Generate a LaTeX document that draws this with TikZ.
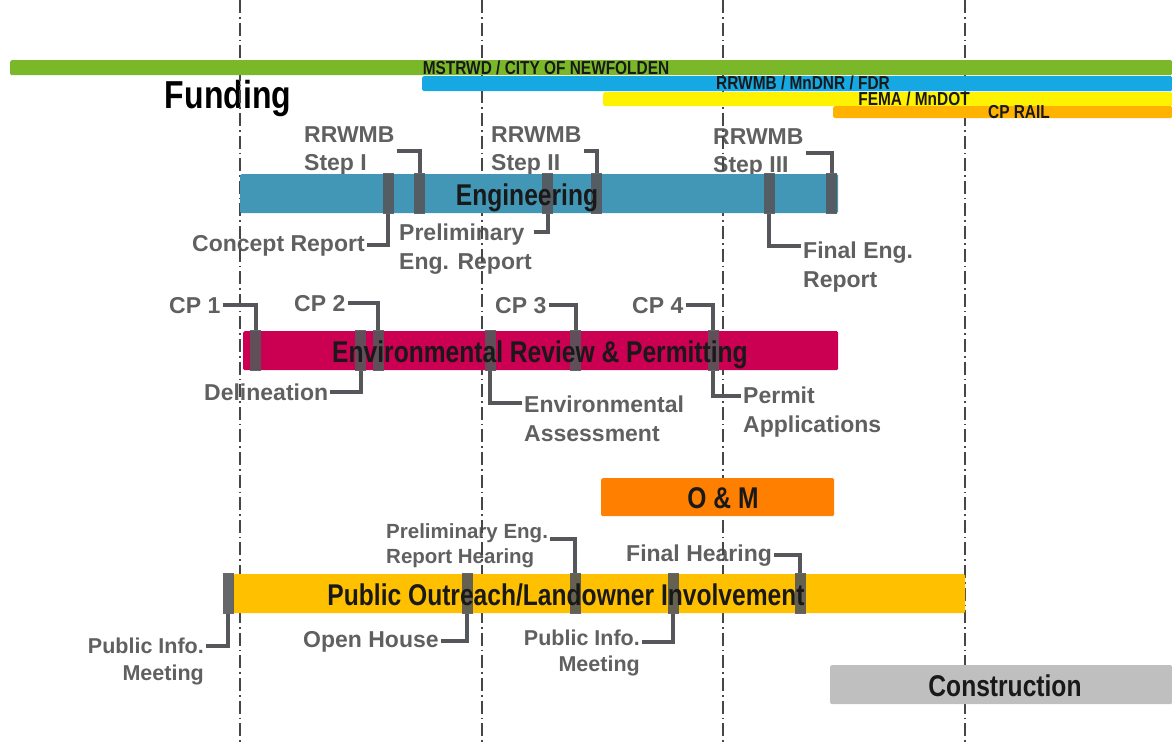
\documentclass[tikz,border=0pt]{standalone}
\usepackage{fontspec}
\setmainfont{Liberation Sans}
\newfontfamily\narrowsans[FakeStretch=0.82]{Liberation Sans}

\definecolor{fundgreen}{RGB}{122,184,42}
\definecolor{fundblue}{RGB}{22,168,226}
\definecolor{fundyellow}{RGB}{255,242,0}
\definecolor{fundamber}{RGB}{255,178,0}
\definecolor{engblue}{RGB}{66,151,183}
\definecolor{envred}{RGB}{204,0,82}
\definecolor{omorange}{RGB}{255,128,0}
\definecolor{pubamber}{RGB}{255,192,0}
\definecolor{consgray}{RGB}{191,191,191}
\definecolor{markgray}{RGB}{85,87,90}
\definecolor{notegray}{RGB}{96,96,96}
\definecolor{gridgray}{RGB}{70,70,70}

\begin{document}
\begin{tikzpicture}[
    x=1pt, y=-1pt,
    grid/.style={draw=gridgray, line width=1.4pt, dash pattern=on 13pt off 4pt on 1.6pt off 4pt},
    fundbar/.style={rectangle, anchor=north west, inner sep=0pt, rounded corners=1.5pt, minimum height=15pt},
    fundtext/.style={font=\narrowsans\bfseries\fontsize{18.8}{21}\selectfont, text=black!90, inner sep=0pt, anchor=base},
    taskbar/.style={rectangle, anchor=north west, inner sep=0pt, rounded corners=1.5pt, minimum height=39pt},
    tasktext/.style={font=\narrowsans\bfseries\fontsize{30}{34}\selectfont, text=black!90, inner sep=0pt, anchor=base},
    milestone/.style={rectangle, fill=markgray, opacity=0.9, inner sep=0pt, minimum width=11pt, minimum height=41pt},
    note/.style={font=\bfseries\fontsize{23}{28.5}\selectfont, text=notegray, inner sep=2pt, anchor=base west},
    link/.style={draw=markgray, line width=4pt}
]
    \useasboundingbox (0,0) rectangle (1172,745);

    \node[font=\narrowsans\bfseries\fontsize{39}{43}\selectfont, anchor=base] (funding) at (228,108) {Funding};

    % engineering notes
    \node[note, anchor=north west, align=left] (stepI) at (302,124) {RRWMB\\Step I};
    \node[note] (concept) at (190,251) {Concept Report};
    \node[note, anchor=north west, align=left] (prelim) at (397,222) {Preliminary\\Eng. Report};
    \node[note, anchor=north west, align=left] (stepII) at (489,124) {RRWMB\\Step II};
    \node[note, anchor=north west, align=left] (stepIII) at (711,126) {RRWMB\\Step III};
    \node[note, anchor=north west, align=left] (finaleng) at (801,240) {Final Eng.\\Report};

    % permitting notes
    \node[note] (cp1) at (167,313) {CP 1};
    \node[note] (cp2) at (292,311) {CP 2};
    \node[note] (delin) at (202,400) {Delineation};
    \node[note] (cp3) at (493,313) {CP 3};
    \node[note, anchor=north west, align=left] (envassess) at (522,394) {Environmental\\Assessment};
    \node[note] (cp4) at (630,313) {CP 4};
    \node[note, anchor=north west, align=left] (permit) at (741,385) {Permit\\Applications};

    % outreach notes
    \node[note, anchor=north east, align=right, font=\bfseries\fontsize{21.5}{27}\selectfont] (pubinfoA) at (206,636) {Public Info.\\Meeting};
    \node[note] (openhouse) at (301,647) {Open House};
    \node[note, anchor=north west, align=left, font=\bfseries\fontsize{20.5}{25.5}\selectfont] (prelimhear) at (384,521) {Preliminary Eng.\\Report Hearing};
    \node[note, anchor=north east, align=right, font=\bfseries\fontsize{21.5}{26}\selectfont] (pubinfoB) at (642,628) {Public Info.\\Meeting};
    \node[note] (finalhear) at (624,561) {Final Hearing};

    \foreach \x in {240,482,723,965}
        \draw[grid] (\x,0) -- (\x,745);

    % funding sources
    \node[fundbar, fill=fundgreen, minimum width=1162pt] (fgreen) at (10,60) {};
    \node[fundbar, fill=fundblue, minimum width=750pt] (fblue) at (422,76) {};
    \node[fundbar, fill=fundyellow, minimum width=569pt, minimum height=14pt] (fyellow) at (603,92) {};
    \node[fundbar, fill=fundamber, minimum width=339pt, minimum height=12pt] (famber) at (833,106) {};
    \node[fundtext] (tgreen) at (546,74) {MSTRWD / CITY OF NEWFOLDEN};
    \node[fundtext] (tblue) at (803,89) {RRWMB / MnDNR / FDR};
    \node[fundtext] (tyellow) at (914,105) {FEMA / MnDOT};
    \node[fundtext] (tamber) at (1019,118) {CP RAIL};

    % tasks
    \node[taskbar, fill=engblue, minimum width=598pt] (eng) at (240,174) {};
    \node[taskbar, fill=envred, minimum width=595pt] (env) at (243,331) {};
    \node[taskbar, fill=omorange, minimum width=233pt, minimum height=38pt] (om) at (601,478) {};
    \node[taskbar, fill=pubamber, minimum width=732pt] (pub) at (233,574) {};
    \node[taskbar, fill=consgray, minimum width=342pt] (cons) at (830,665) {};

    % milestones
    \node[milestone] (e1) at (388,193.5) {};
    \node[milestone] (e2) at (419.5,193.5) {};
    \node[milestone] (e3) at (547.5,193.5) {};
    \node[milestone] (e4) at (596.5,193.5) {};
    \node[milestone] (e5) at (769,193.5) {};
    \node[milestone] (e6) at (831.5,193.5) {};
    \node[milestone] (v1) at (255.5,350.5) {};
    \node[milestone] (v2) at (360.5,350.5) {};
    \node[milestone] (v3) at (378,350.5) {};
    \node[milestone] (v4) at (490,350.5) {};
    \node[milestone] (v5) at (575.5,350.5) {};
    \node[milestone] (v6) at (713,350.5) {};
    \node[milestone] (p1) at (228,593.5) {};
    \node[milestone] (p2) at (467,593.5) {};
    \node[milestone] (p3) at (575,593.5) {};
    \node[milestone] (p4) at (673,593.5) {};
    \node[milestone] (p5) at (800,593.5) {};

    \node[tasktext] (teng) at (527,205) {Engineering};
    \node[tasktext] (tenv) at (540,362) {Environmental Review \& Permitting};
    \node[tasktext] (tom) at (723,508) {O \& M};
    \node[tasktext] (tpub) at (566,605) {Public Outreach/Landowner Involvement};
    \node[tasktext] (tcons) at (1005,696) {Construction};

    \draw[link] (stepI.east) -| (e2.north);
    \draw[link] (concept.east) -| (e1.south);
    \draw[link] (stepII.east) -| (e4.north);
    \draw[link] ([yshift=-10pt]prelim.north east) -| (e3.south);
    \draw[link] (stepIII.east) -| (e6.north);
    \draw[link] (e5.south) |- ([yshift=-6pt]finaleng.north west);
    \draw[link] (cp1.east) -| (v1.north);
    \draw[link] (cp2.east) -| (v3.north);
    \draw[link] (delin.east) -| (v2.south);
    \draw[link] (cp3.east) -| (v5.north);
    \draw[link] (v4.south) |- ([yshift=-9pt]envassess.north west);
    \draw[link] (cp4.east) -| (v6.north);
    \draw[link] (v6.south) |- ([yshift=-11pt]permit.north west);
    \draw[link] ([yshift=-10pt]pubinfoA.north east) -| (p1.south);
    \draw[link] (openhouse.east) -| (p2.south);
    \draw[link] ([yshift=-18pt]prelimhear.north east) -| (p3.north);
    \draw[link] ([yshift=-14pt]pubinfoB.north east) -| (p4.south);
    \draw[link] (finalhear.east) -| (p5.north);
\end{tikzpicture}
\end{document}
